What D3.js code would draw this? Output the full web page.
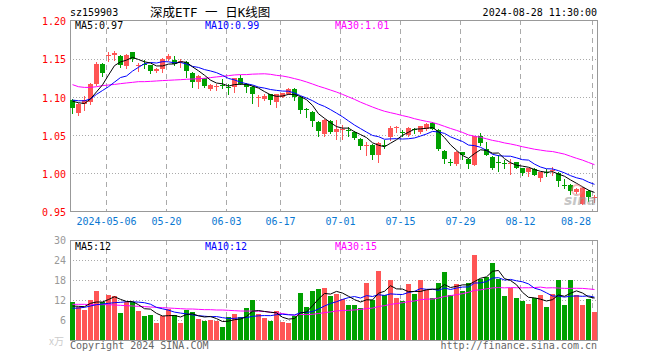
<!DOCTYPE html>
<html><head><meta charset="utf-8">
<script src="https://cdn.jsdelivr.net/npm/d3@7/dist/d3.min.js"></script>
<style>body{margin:0;background:#fff}svg{display:block}</style>
</head><body><svg id="c" width="660" height="360"></svg>
<script>
const dates = ["2024-04-23","2024-04-24","2024-04-25","2024-04-26","2024-04-29","2024-04-30",
"2024-05-06","2024-05-07","2024-05-08","2024-05-09","2024-05-10","2024-05-13","2024-05-14","2024-05-15","2024-05-16","2024-05-17",
"2024-05-20","2024-05-21","2024-05-22","2024-05-23","2024-05-24","2024-05-27","2024-05-28","2024-05-29","2024-05-30","2024-05-31",
"2024-06-03","2024-06-04","2024-06-05","2024-06-06","2024-06-07","2024-06-11","2024-06-12","2024-06-13","2024-06-14",
"2024-06-17","2024-06-18","2024-06-19","2024-06-20","2024-06-21","2024-06-24","2024-06-25","2024-06-26","2024-06-27","2024-06-28",
"2024-07-01","2024-07-02","2024-07-03","2024-07-04","2024-07-05","2024-07-08","2024-07-09","2024-07-10","2024-07-11","2024-07-12",
"2024-07-15","2024-07-16","2024-07-17","2024-07-18","2024-07-19","2024-07-22","2024-07-23","2024-07-24","2024-07-25","2024-07-26",
"2024-07-29","2024-07-30","2024-07-31","2024-08-01","2024-08-02","2024-08-05","2024-08-06","2024-08-07","2024-08-08","2024-08-09",
"2024-08-12","2024-08-13","2024-08-14","2024-08-15","2024-08-16","2024-08-19","2024-08-20","2024-08-21","2024-08-22","2024-08-23",
"2024-08-26","2024-08-27","2024-08-28"];

const open = [1.097,1.080,1.091,1.094,1.118,1.144,1.155,1.156,1.154,1.141,
1.159,1.141,1.144,1.142,1.134,1.137,1.150,1.149,1.147,1.146,
1.132,1.120,1.125,1.111,1.114,1.116,1.114,1.114,1.125,1.118,
1.114,1.099,1.098,1.104,1.094,1.101,1.105,1.111,1.101,1.085,
1.081,1.068,1.052,1.069,1.055,1.058,1.057,1.055,1.046,1.037,
1.038,1.024,1.038,1.048,1.060,1.055,1.051,1.058,1.055,1.058,
1.067,1.057,1.030,1.016,1.013,1.028,1.020,1.012,1.050,1.032,
1.022,1.015,1.014,1.013,1.015,1.007,1.003,1.006,0.994,1.003,
1.004,1.001,0.985,0.985,0.976,0.961,0.978,0.968];

const high = [1.098,1.093,1.102,1.119,1.146,1.145,1.159,1.161,1.156,1.157,
1.160,1.145,1.149,1.143,1.138,1.151,1.157,1.154,1.150,1.147,
1.133,1.129,1.126,1.117,1.118,1.124,1.118,1.126,1.129,1.119,
1.115,1.103,1.105,1.105,1.105,1.106,1.112,1.112,1.102,1.086,
1.082,1.069,1.072,1.070,1.070,1.064,1.061,1.056,1.047,1.042,
1.039,1.042,1.044,1.062,1.062,1.057,1.061,1.060,1.063,1.066,
1.068,1.058,1.031,1.020,1.030,1.029,1.021,1.050,1.053,1.042,
1.023,1.024,1.018,1.020,1.016,1.008,1.008,1.007,1.003,1.006,
1.009,1.002,0.993,0.986,0.981,0.983,0.979,0.972];

const low = [1.080,1.077,1.084,1.092,1.116,1.128,1.148,1.149,1.140,1.139,
1.148,1.135,1.138,1.132,1.133,1.133,1.149,1.143,1.140,1.127,
1.114,1.112,1.114,1.110,1.110,1.112,1.105,1.107,1.117,1.107,
1.093,1.089,1.096,1.092,1.088,1.100,1.104,1.097,1.080,1.075,
1.062,1.050,1.050,1.053,1.046,1.045,1.050,1.046,1.033,1.024,
1.019,1.015,1.034,1.044,1.055,1.050,1.050,1.053,1.054,1.057,
1.058,1.031,1.014,1.011,1.012,1.019,1.008,1.011,1.038,1.024,
1.006,1.004,1.008,1.000,1.007,0.998,0.997,0.998,0.990,0.997,
0.998,0.984,0.982,0.974,0.975,0.960,0.965,0.963];

const close = [1.086,1.092,1.096,1.118,1.144,1.132,1.156,1.158,1.142,1.156,
1.150,1.142,1.143,1.134,1.137,1.150,1.154,1.144,1.148,1.134,
1.120,1.128,1.115,1.116,1.115,1.115,1.113,1.125,1.118,1.114,
1.104,1.100,1.102,1.097,1.104,1.106,1.111,1.101,1.083,1.084,
1.069,1.056,1.071,1.055,1.058,1.059,1.056,1.047,1.037,1.038,
1.025,1.040,1.037,1.060,1.061,1.054,1.060,1.057,1.062,1.065,
1.059,1.032,1.019,1.015,1.029,1.025,1.013,1.050,1.040,1.025,
1.007,1.014,1.013,1.014,1.008,1.001,1.007,0.998,1.002,1.002,
1.005,0.991,0.984,0.978,0.980,0.982,0.969,0.969];

// volume, unit: 万手
const volume = [11.5,9.8,9.0,12.0,14.7,11.5,13.5,13.2,8.1,11.5,
11.3,8.8,7.2,7.5,5.2,7.3,9.3,7.5,5.2,9.0,
8.3,6.3,5.7,6.0,5.8,3.9,6.9,7.9,6.9,9.5,
12.0,7.9,6.5,5.7,8.7,5.3,5.2,7.3,14.2,9.9,
14.7,15.4,15.6,13.3,13.9,12.2,10.6,10.6,9.7,17.2,
12.0,20.7,13.5,18.0,12.5,11.7,16.8,13.8,18.0,15.0,
12.5,17.2,20.5,13.5,16.8,14.7,17.2,25.5,18.4,18.9,
23.1,18.4,13.3,15.5,12.6,11.7,10.9,12.5,13.5,9.9,
13.7,18.0,10.5,18.0,13.5,10.5,12.3,8.5];

const ma5Head = [1.095,1.093,1.092,1.098];
const ma10Head = [1.0965,1.0956,1.0956,1.098,1.104,1.109,1.114,1.120,1.126];
const ma30Head = [1.1167,1.114,1.1131,1.1131,1.114,1.1154,1.1162,1.117,1.118,1.1189,
1.1197,1.1206,1.1206,1.121,1.1215,1.122,1.1224,1.1228,1.1232,1.1237,
1.1241,1.1245,1.125,1.1259,1.1268,1.1276,1.1285,1.1294,1.1298];
const vma5Head = [10.2,10.1,10.0,11.0];
const vma10Head = [9.5,9.6,9.8,10.2,10.6,10.8,11.0,11.2,11.3];
const vma30Head = [10.7,10.7,10.7,10.6,10.6,10.6,10.6,10.5,10.4,10.3,
10.2,10.1,10.0,9.9,9.8,9.7,9.6,9.5,9.4,9.3,
9.3,9.2,9.1,9.1,9.0,9.0,8.9,8.8,8.7];

const priceTicks = [1.20,1.15,1.10,1.05,1.00,0.95];
const volTicks = [30,24,18,12,6];
const dateTicks = ["2024-05-06","2024-05-20","2024-06-03","2024-06-17","2024-07-01","2024-07-15","2024-07-29","2024-08-12","2024-08-28"];
const dateTickLabels = ["2024-05-06","05-20","06-03","06-17","07-01","07-15","07-29","08-12","08-28"];
const priceMaText = ["MA5:0.97","MA10:0.99","MA30:1.01"];
const volMaText = ["MA5:12","MA10:12","MA30:15"];
const titleCode = "sz159903";
const titleText = "深成ETF 一 日K线图";
const timeText = "2024-08-28 11:30:00";

// ---------------------------------------------------------------
const svg = d3.select("#c");
const L = 70, R = 597;
const mono = "'DejaVu Sans Mono', monospace";
const RED = "#ff5555", GREEN = "#00a000", GRID = "#aaaaaa", FRAME = "#999999";
const maColors = ["#000000", "#0000ff", "#ff00ff"];

const x = d3.scaleBand().domain(dates).range([L, R]).paddingInner(1/6).paddingOuter(0);
const bw = x.bandwidth();
const cx = d => x(d) + Math.floor(bw / 2) + 0.5;
const y = d3.scaleLinear().domain([0.95, 1.20]).range([212, 21]);
const yv = d3.scaleLinear().domain([0, 30]).range([340, 240]);

function movingAvg(vals, n, head) {
  return vals.map((v, i) => i < n - 1 ? head[i] : d3.mean(vals.slice(i - n + 1, i + 1)));
}
const ma = [movingAvg(close, 5, ma5Head), movingAvg(close, 10, ma10Head), movingAvg(close, 30, ma30Head)];
const vma = [movingAvg(volume, 5, vma5Head), movingAvg(volume, 10, vma10Head), movingAvg(volume, 30, vma30Head)];

svg.append("rect").attr("width", 660).attr("height", 360).attr("fill", "#fff");

function pane(top, bottom, hTicks, scale, tickColor, fmt) {
  const g = svg.append("g");
  g.selectAll("line.h").data(hTicks.filter(t => Math.abs(scale(t) - top) > 2 && Math.abs(scale(t) - bottom) > 2))
    .enter().append("line")
    .attr("x1", L).attr("x2", R)
    .attr("y1", t => Math.floor(scale(t)) + 0.5).attr("y2", t => Math.floor(scale(t)) + 0.5)
    .attr("stroke", GRID).attr("stroke-dasharray", "1,2");
  g.selectAll("line.v").data(dateTicks).enter().append("line")
    .attr("x1", d => x(d) + 0.5).attr("x2", d => x(d) + 0.5)
    .attr("y1", top).attr("y2", bottom)
    .attr("stroke", GRID).attr("stroke-dasharray", "5,4");
  g.append("rect").attr("x", L + 0.5).attr("y", top + 0.5)
    .attr("width", R - L).attr("height", bottom - top - 1)
    .attr("fill", "none").attr("stroke", FRAME);
  const ax = svg.append("g").attr("transform", `translate(${L - 4},0)`)
    .call(d3.axisLeft(scale).tickValues(hTicks).tickSize(0).tickPadding(0).tickFormat(fmt));
  ax.select(".domain").remove();
  ax.selectAll("text").attr("fill", tickColor).attr("font-family", mono).attr("font-size", 10)
    .attr("dy", "0.36em");
}

pane(20, 212, priceTicks, y, "#ff0000", d3.format(".2f"));
pane(240, 341, volTicks, yv, "#999999", d3.format("d"));

// date labels
svg.append("g").selectAll("text").data(dateTicks).enter().append("text")
  .attr("x", (d, i) => Math.min(x(d) + 0.5, R - 6 - 15))
  .attr("y", 225)
  .attr("text-anchor", "middle")
  .attr("font-family", mono).attr("font-size", 10).attr("fill", "#0a78d2")
  .text((d, i) => dateTickLabels[i]);

// candles
const cg = svg.append("g").attr("shape-rendering", "crispEdges");
const up = i => close[i] >= open[i];
cg.selectAll("line.w").data(dates).enter().append("line")
  .attr("x1", d => cx(d)).attr("x2", d => cx(d))
  .attr("y1", (d, i) => Math.round(y(high[i]))).attr("y2", (d, i) => Math.round(y(low[i])) + 1)
  .attr("stroke", (d, i) => up(i) ? RED : GREEN);
cg.selectAll("rect.b").data(dates).enter().append("rect")
  .attr("x", d => x(d)).attr("width", bw)
  .attr("y", (d, i) => Math.round(y(Math.max(open[i], close[i]))))
  .attr("height", (d, i) => Math.max(1, Math.round(y(Math.min(open[i], close[i]))) - Math.round(y(Math.max(open[i], close[i])))))
  .attr("fill", (d, i) => up(i) ? RED : GREEN);

// volume bars
cg.selectAll("rect.v").data(dates).enter().append("rect")
  .attr("x", d => x(d)).attr("width", bw)
  .attr("y", (d, i) => Math.round(yv(volume[i])))
  .attr("height", (d, i) => 340 - Math.round(yv(volume[i])))
  .attr("fill", (d, i) => up(i) ? RED : GREEN);

// MA lines
const lineP = d3.line().x((v, i) => cx(dates[i])).y(v => y(v));
const lineV = d3.line().x((v, i) => cx(dates[i])).y(v => yv(v));
[2, 1, 0].forEach(k => {
  svg.append("path").attr("d", lineP(ma[k])).attr("fill", "none").attr("stroke", maColors[k]).attr("stroke-width", 1);
  svg.append("path").attr("d", lineV(vma[k])).attr("fill", "none").attr("stroke", maColors[k]).attr("stroke-width", 1);
});

// MA legends
const legX = [75, 205, 335];
priceMaText.forEach((t, k) => svg.append("text").attr("x", legX[k]).attr("y", 29)
  .attr("font-family", mono).attr("font-size", 10).attr("fill", maColors[k]).text(t));
volMaText.forEach((t, k) => svg.append("text").attr("x", legX[k]).attr("y", 250)
  .attr("font-family", mono).attr("font-size", 10).attr("fill", maColors[k]).text(t));

// header
svg.append("text").attr("x", 70).attr("y", 16).attr("font-family", mono).attr("font-size", 10).attr("fill", "#000").text(titleCode);
svg.append("text").attr("x", 150).attr("y", 17).attr("xml:space", "preserve")
  .attr("font-family", "'DejaVu Sans Mono', 'Noto Sans CJK SC', sans-serif").attr("font-size", 12.5).attr("fill", "#000").text(titleText);
svg.append("text").attr("x", R).attr("y", 16).attr("text-anchor", "end").attr("font-family", mono).attr("font-size", 10).attr("fill", "#000").text(timeText);

// footer
svg.append("text").attr("x", 70).attr("y", 349).attr("font-family", mono).attr("font-size", 10).attr("fill", "#666").text("Copyright 2024 SINA.COM");
svg.append("text").attr("x", R).attr("y", 349).attr("text-anchor", "end").attr("font-family", mono).attr("font-size", 10).attr("fill", "#666").text("http://finance.sina.com.cn");
svg.append("text").attr("x", 64).attr("y", 345).attr("text-anchor", "end")
  .attr("font-family", "'Noto Sans CJK SC', sans-serif").attr("font-size", 10).attr("fill", "#cccccc").text("x万");

// watermark
const wm = svg.append("g").attr("opacity", 0.55);
wm.append("circle").attr("cx", 577).attr("cy", 190).attr("r", 5).attr("fill", "none").attr("stroke", "#f08080").attr("stroke-width", 2);
wm.append("text").attr("x", 564).attr("y", 205).attr("font-family", "'DejaVu Sans', sans-serif")
  .attr("font-size", 14).attr("font-weight", "bold").attr("font-style", "italic").attr("fill", "#999").text("sina");
</script></body></html>
